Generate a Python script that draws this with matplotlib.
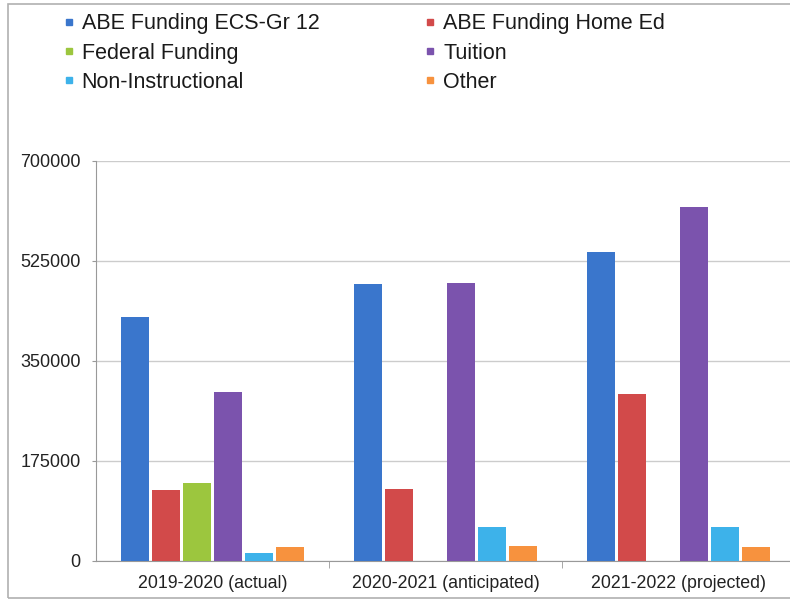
import matplotlib
matplotlib.use("Agg")
import matplotlib.pyplot as plt
from matplotlib.lines import Line2D
from matplotlib.patches import Rectangle
import numpy as np

categories = ["2019-2020 (actual)", "2020-2021 (anticipated)", "2021-2022 (projected)"]
series_names = ["ABE Funding ECS-Gr 12", "ABE Funding Home Ed", "Federal Funding",
                "Tuition", "Non-Instructional", "Other"]
abe_ecs = [427000, 484000, 541000]
abe_home = [124000, 125000, 292000]
federal = [136500, 0, 0]
tuition = [295000, 486500, 619500]
non_instr = [13000, 59500, 58500]
other = [23500, 26000, 24500]
yticks = [0, 175000, 350000, 525000, 700000]

values = [abe_ecs, abe_home, federal, tuition, non_instr, other]
colors = ["#3a76cc", "#d24a4a", "#9cc63e", "#7b53ad", "#3db2ea", "#f7923e"]

plt.rcParams['font.family'] = ['Liberation Sans', 'DejaVu Sans']
fig = plt.figure(figsize=(7.9, 6.01), dpi=100)
fig.patches.append(Rectangle((8/790, 3/601), 1, 594/601, transform=fig.transFigure,
                             fill=False, edgecolor="#b0b0b0", linewidth=1.2))

ax = fig.add_axes([96/790, 1-560.7/601, 694/790, 400/601])
x = np.arange(len(categories))
pitch = 0.1335
width = 0.122
handles = []
for i, (vals, col, name) in enumerate(zip(values, colors, series_names)):
    ax.bar(x + (i - 2.5) * pitch, vals, width=width, color=col, zorder=3)
    handles.append(Line2D([], [], marker='s', linestyle='none', markersize=5,
                          markerfacecolor=col, markeredgecolor=col, label=name))

ax.set_xlim(-0.5, -0.5 + 694/233)
ax.set_ylim(0, 700000)
ax.set_yticks(yticks)
ax.set_yticklabels([str(v) for v in yticks], fontsize=13, color="#222222")
ax.yaxis.grid(True, color="#cccccc", linewidth=1, zorder=0)
ax.set_xticks(x)
ax.set_xticklabels(categories, fontsize=12.75, color="#222222")
ax.tick_params(axis='x', length=0, pad=10)
ax.tick_params(axis='y', length=3, color="#999999", pad=8)
ax.set_xticks([0.5, 1.5], minor=True)
ax.tick_params(axis='x', which='minor', length=5, color="#999999")
for s in ["top", "right"]:
    ax.spines[s].set_visible(False)
ax.spines["left"].set_color("#999999")
ax.spines["bottom"].set_color("#999999")

order = [0, 2, 4, 1, 3, 5]
fig.legend([handles[k] for k in order], [series_names[k] for k in order],
           ncol=2, loc="upper left", bbox_to_anchor=(45/790, 1 + 6/601),
           frameon=False, fontsize=15.5, handlelength=0.4, handletextpad=0.4,
           columnspacing=4.95, labelspacing=0.38, labelcolor="#1a1a1a")

fig.savefig("out.png", dpi=100)
